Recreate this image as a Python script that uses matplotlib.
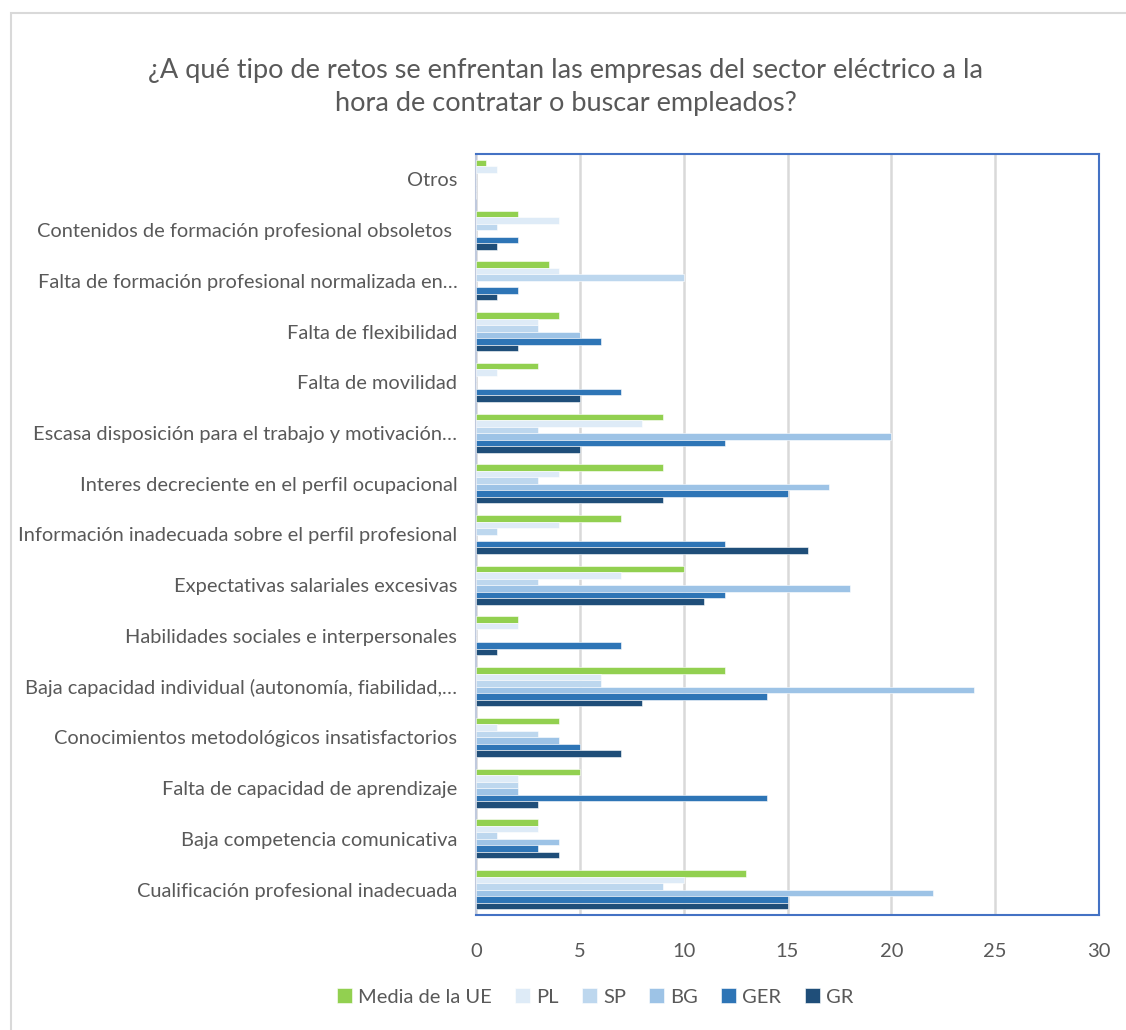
import numpy as np
import matplotlib
matplotlib.use('Agg')
import matplotlib.pyplot as plt
from matplotlib.patches import Rectangle

# categorias de abajo hacia arriba
categorias = [
    'Cualificación profesional inadecuada',
    'Baja competencia comunicativa',
    'Falta de capacidad de aprendizaje',
    'Conocimientos metodológicos insatisfactorios',
    'Baja capacidad individual (autonomía, fiabilidad,…',
    'Habilidades sociales e interpersonales',
    'Expectativas salariales excesivas',
    'Información inadecuada sobre el perfil profesional',
    'Interes decreciente en el perfil ocupacional',
    'Escasa disposición para el trabajo y motivación…',
    'Falta de movilidad',
    'Falta de flexibilidad',
    'Falta de formación profesional normalizada en…',
    'Contenidos de formación profesional obsoletos ',
    'Otros',
]

media_ue = [13, 3, 5, 4, 12, 2, 10, 7, 9, 9, 3, 4, 3.5, 2, 0.5]
pl = [10, 3, 2, 1, 6, 2, 7, 4, 4, 8, 1, 3, 4, 4, 1]
sp = [9, 1, 2, 3, 6, 0, 3, 1, 3, 3, 0, 3, 10, 1, 0]
bg = [22, 4, 2, 4, 24, 0, 18, 0, 17, 20, 0, 5, 0, 0, 0]
ger = [15, 3, 14, 5, 14, 7, 12, 12, 15, 12, 7, 6, 2, 2, 0]
gr = [15, 4, 3, 7, 8, 1, 11, 16, 9, 5, 5, 2, 1, 1, 0]

series = ['Media de la UE', 'PL', 'SP', 'BG', 'GER', 'GR']
valores = [media_ue, pl, sp, bg, ger, gr]
colores = ['#92D050', '#DEEBF7', '#BDD7EE', '#9DC3E6', '#2E75B6', '#1F4E79']

txt = '#595959'
plt.rcParams['font.family'] = ['Lato', 'DejaVu Sans']

fig = plt.figure(figsize=(11.26, 10.3), dpi=100)
ax = fig.add_axes([476 / 1126, 1 - 915 / 1030, (1099 - 476) / 1126, (915 - 154) / 1030])

# borde exterior del grafico
fig.patches.append(Rectangle((11 / 1126, -0.05), 1.1, 1 - 13 / 1030 + 0.05,
                             transform=fig.transFigure, fill=False,
                             edgecolor='#D9D9D9', linewidth=1.5))

y = np.arange(len(categorias))
h = 0.128
for i, (nombre, vals, c) in enumerate(zip(series, valores, colores)):
    off = (2.5 - i) * h
    ax.barh(y + off, vals, height=h, color=c, label=nombre,
            edgecolor='white', linewidth=0.4, zorder=3)

ax.set_xlim(0, 30)
ax.set_ylim(-0.5, len(categorias) - 0.5)
ax.set_xticks(range(0, 31, 5))
ax.set_yticks(y)
ax.set_yticklabels(categorias)
ax.tick_params(axis='y', length=0, pad=13.5, labelsize=14.4, labelcolor=txt)
ax.tick_params(axis='x', length=0, pad=20, labelsize=14.5, labelcolor=txt)
ax.grid(axis='x', color='#D9D9D9', linewidth=1.8, zorder=0)
ax.set_axisbelow(True)

for s in ['top', 'right', 'bottom']:
    ax.spines[s].set_color('#4472C4')
    ax.spines[s].set_linewidth(1.5)
ax.spines['left'].set_color('#BFC9DD')
ax.spines['left'].set_linewidth(1.5)

fig.text(566 / 1126, 1 - 87 / 1030,
         '¿A qué tipo de retos se enfrentan las empresas del sector eléctrico a la\nhora de contratar o buscar empleados?',
         ha='center', va='center', fontsize=19.5, color=txt, linespacing=1.42)

leg = fig.legend(loc='center', bbox_to_anchor=(595 / 1126, 1 - 997 / 1030), ncol=6,
                 frameon=False, fontsize=14.5, handlelength=0.75, handleheight=0.75,
                 handletextpad=0.3, columnspacing=1.15)
for t in leg.get_texts():
    t.set_color(txt)

fig.savefig('out.png', dpi=100)
